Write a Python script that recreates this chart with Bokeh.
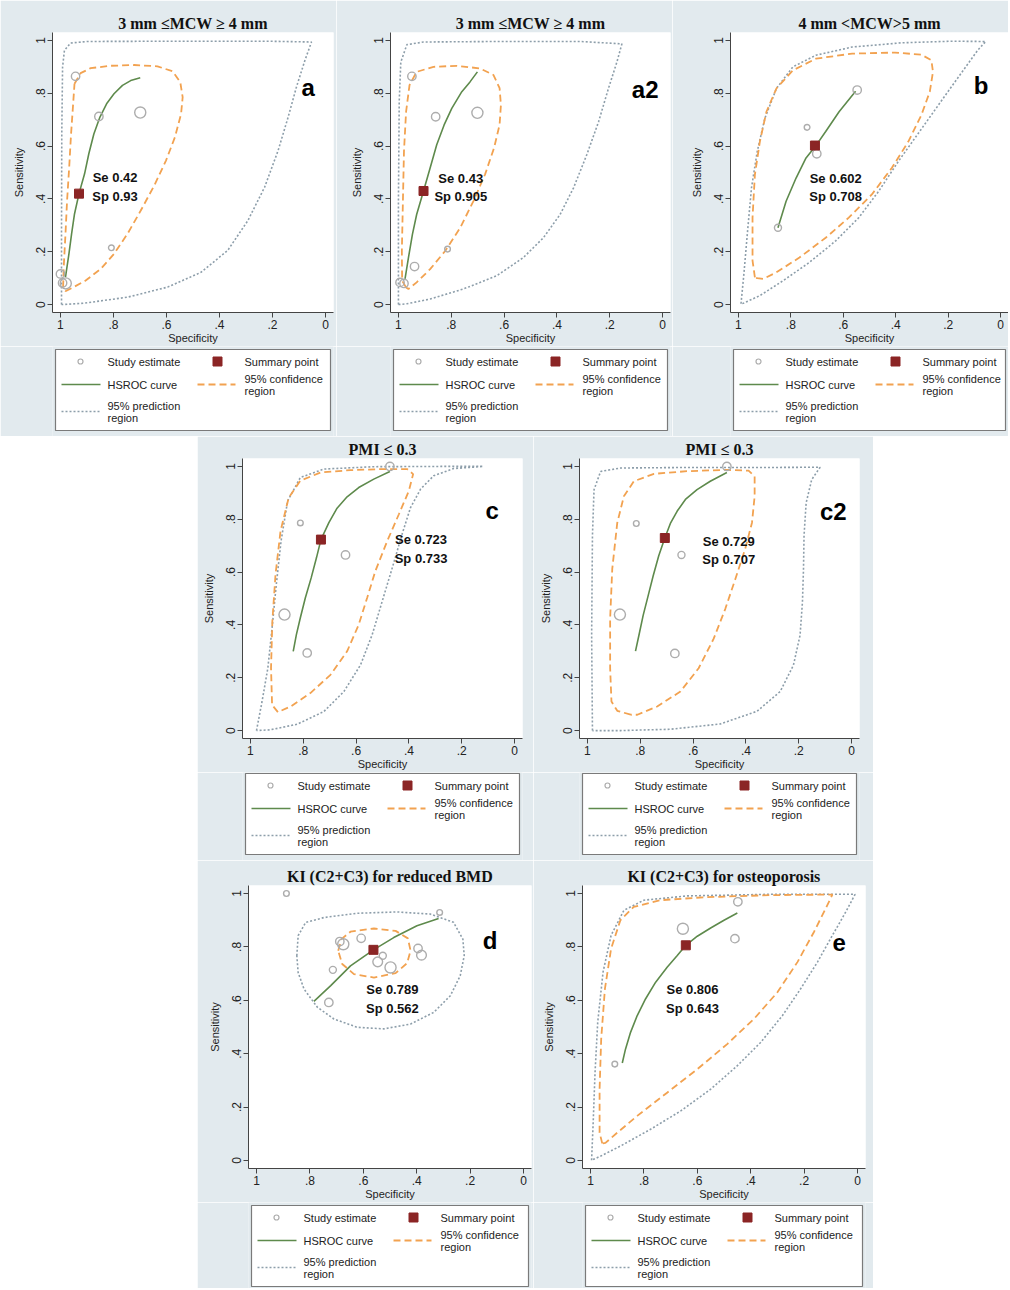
from bokeh.plotting import figure
from bokeh.models import Range1d, FixedTicker, Spacer, ColumnDataSource
from bokeh.layouts import row, column
from bokeh.embed import file_html
from bokeh.resources import INLINE
from bokeh.core.properties import value

# ---------------- data ----------------
TICKS = [0.0, 0.2, 0.4, 0.6, 0.8, 1.0]
TICK_LABELS = ["0", ".2", ".4", ".6", ".8", "1"]
LEGEND_STUDY = "Study estimate"
LEGEND_SUMMARY = "Summary point"
LEGEND_HSROC = "HSROC curve"
LEGEND_CONF = ["95% confidence", "region"]
LEGEND_PRED = ["95% prediction", "region"]

# panel a
A_TITLE = "3 mm \u2264MCW \u2265 4 mm"
A_STUDY_SP = [0.943, 0.855, 0.699, 0.808, 1.000, 0.992, 0.980]
A_STUDY_SE = [0.864, 0.712, 0.727, 0.215, 0.116, 0.082, 0.080]
A_STUDY_W = [2, 2, 3, 1, 2, 2, 3]
A_SUM_SP = [0.93]
A_SUM_SE = [0.42]
A_TEXT = "Se 0.42\nSp 0.93"
A_HSROC_SP = [0.981, 0.968, 0.958, 0.947, 0.930, 0.909, 0.893, 0.874, 0.851, 0.826, 0.798,
              0.766, 0.735, 0.699]
A_HSROC_SE = [0.104, 0.192, 0.268, 0.343, 0.420, 0.495, 0.571, 0.646, 0.710, 0.760, 0.798,
              0.830, 0.848, 0.859]
A_CONF_SP = [0.947, 0.924, 0.886, 0.811, 0.722, 0.634, 0.577, 0.548, 0.539, 0.545, 0.568, 0.602,
             0.646, 0.697, 0.747, 0.798, 0.848, 0.905, 0.956, 0.981, 0.990, 0.987, 0.981, 0.975,
             0.967, 0.960, 0.953]
A_CONF_SE = [0.836, 0.876, 0.895, 0.904, 0.907, 0.902, 0.883, 0.842, 0.785, 0.722, 0.634, 0.545,
             0.451, 0.356, 0.268, 0.192, 0.135, 0.091, 0.063, 0.051, 0.066, 0.154, 0.268, 0.394,
             0.520, 0.646, 0.747]
A_PRED_SP = [0.996, 0.996, 0.995, 0.992, 0.985, 0.962, 0.899, 0.596, 0.217, 0.053, 0.078, 0.110,
             0.141, 0.179, 0.230, 0.293, 0.369, 0.470, 0.596, 0.747, 0.912]
A_PRED_SE = [0.000, 0.268, 0.646, 0.899, 0.962, 0.990, 0.996, 0.997, 0.997, 0.994, 0.924, 0.823,
             0.710, 0.583, 0.444, 0.318, 0.205, 0.122, 0.066, 0.028, 0.005]

# panel a2
A2_TITLE = "3 mm \u2264MCW \u2265 4 mm"
A2_STUDY_SP = [0.949, 0.859, 0.701, 0.814, 0.939, 0.994, 0.979]
A2_STUDY_SE = [0.864, 0.711, 0.726, 0.210, 0.144, 0.084, 0.080]
A2_STUDY_W = [2, 2, 3, 1, 2, 2, 2]
A2_SUM_SP = [0.905]
A2_SUM_SE = [0.43]
A2_TEXT = "Se 0.43\nSp 0.905"
A2_HSROC_SP = [0.975, 0.962, 0.947, 0.931, 0.905, 0.880, 0.855, 0.827, 0.798, 0.760, 0.729,
               0.701]
A2_HSROC_SE = [0.097, 0.178, 0.266, 0.341, 0.430, 0.517, 0.605, 0.680, 0.743, 0.806, 0.843,
               0.881]
A2_CONF_SP = [0.971, 0.986, 0.987, 0.983, 0.979, 0.971, 0.958, 0.931, 0.867, 0.779, 0.691, 0.640,
              0.617, 0.612, 0.617, 0.638, 0.672, 0.716, 0.766, 0.823, 0.880, 0.931, 0.962]
A2_CONF_SE = [0.065, 0.090, 0.203, 0.392, 0.580, 0.730, 0.831, 0.881, 0.900, 0.904, 0.894, 0.869,
              0.819, 0.756, 0.681, 0.593, 0.493, 0.392, 0.291, 0.203, 0.134, 0.084, 0.059]
A2_PRED_SP = [1.000, 1.000, 0.997, 0.991, 0.968, 0.905, 0.628, 0.312, 0.154, 0.173, 0.205, 0.242,
              0.287, 0.337, 0.388, 0.451, 0.527, 0.628, 0.754, 0.880, 0.968]
A2_PRED_SE = [0.000, 0.391, 0.768, 0.918, 0.984, 0.994, 0.996, 0.996, 0.987, 0.918, 0.818, 0.693,
              0.567, 0.442, 0.341, 0.253, 0.178, 0.109, 0.059, 0.021, 0.003]

# panel b
B_TITLE = "4 mm <MCW>5 mm"
B_STUDY_SP = [0.547, 0.738, 0.701, 0.849]
B_STUDY_SE = [0.812, 0.671, 0.571, 0.291]
B_STUDY_W = [2, 1, 2, 1.5]
B_SUM_SP = [0.708]
B_SUM_SE = [0.602]
B_TEXT = "Se 0.602\nSp 0.708"
B_HSROC_SP = [0.849, 0.818, 0.780, 0.742, 0.707, 0.667, 0.616, 0.553]
B_HSROC_SE = [0.291, 0.391, 0.479, 0.555, 0.598, 0.655, 0.730, 0.808]
B_CONF_SP = [0.937, 0.946, 0.946, 0.937, 0.918, 0.893, 0.855, 0.792, 0.704, 0.566, 0.403, 0.302,
             0.264, 0.258, 0.270, 0.302, 0.352, 0.415, 0.491, 0.579, 0.667, 0.767, 0.855, 0.906,
             0.928]
B_CONF_SE = [0.103, 0.166, 0.329, 0.492, 0.617, 0.730, 0.818, 0.887, 0.931, 0.950, 0.954, 0.946,
             0.925, 0.881, 0.806, 0.718, 0.617, 0.517, 0.417, 0.329, 0.253, 0.178, 0.122, 0.097,
             0.100]
B_PRED_SP = [0.990, 0.979, 0.966, 0.950, 0.928, 0.899, 0.855, 0.792, 0.704, 0.566, 0.377, 0.189,
             0.057, 0.088, 0.138, 0.201, 0.264, 0.327, 0.390, 0.465, 0.541, 0.629, 0.730, 0.830,
             0.918, 0.981]
B_PRED_SE = [0.003, 0.115, 0.266, 0.442, 0.580, 0.705, 0.818, 0.900, 0.944, 0.975, 0.991, 0.997,
             0.996, 0.962, 0.893, 0.806, 0.718, 0.630, 0.542, 0.429, 0.329, 0.241, 0.159, 0.090,
             0.034, 0.005]

# panel c
C_TITLE = "PMI \u2264 0.3"
C_STUDY_SP = [0.472, 0.811, 0.640, 0.871, 0.785]
C_STUDY_SE = [1.000, 0.786, 0.665, 0.439, 0.294]
C_STUDY_W = [2, 1, 2, 3, 2]
C_SUM_SP = [0.733]
C_SUM_SE = [0.723]
C_TEXT = "Se 0.723\nSp 0.733"
C_HSROC_SP = [0.838, 0.826, 0.811, 0.792, 0.770, 0.750, 0.733, 0.703, 0.672, 0.634, 0.590,
              0.533, 0.472]
C_HSROC_SE = [0.300, 0.363, 0.427, 0.503, 0.578, 0.654, 0.723, 0.787, 0.842, 0.885, 0.920,
              0.952, 0.981]
C_CONF_SP = [0.896, 0.918, 0.922, 0.917, 0.905, 0.886, 0.855, 0.811, 0.735, 0.621, 0.495, 0.407,
             0.384, 0.400, 0.438, 0.482, 0.527, 0.558, 0.590, 0.634, 0.697, 0.773, 0.848]
C_CONF_SE = [0.070, 0.097, 0.237, 0.414, 0.591, 0.756, 0.882, 0.946, 0.977, 0.986, 0.990, 0.990,
             0.971, 0.908, 0.819, 0.718, 0.604, 0.503, 0.401, 0.300, 0.211, 0.142, 0.091]
C_PRED_SP = [0.977, 0.956, 0.934, 0.918, 0.902, 0.884, 0.859, 0.811, 0.722, 0.533, 0.280, 0.119,
             0.230, 0.306, 0.356, 0.394, 0.426, 0.463, 0.501, 0.539, 0.583, 0.646, 0.722, 0.823,
             0.924]
C_PRED_SE = [0.000, 0.110, 0.237, 0.389, 0.553, 0.718, 0.870, 0.958, 0.990, 0.999, 1.000, 1.000,
             0.992, 0.965, 0.914, 0.844, 0.743, 0.616, 0.490, 0.363, 0.249, 0.148, 0.072, 0.024,
             0.003]

# panel c2
C2_TITLE = "PMI \u2264 0.3"
C2_STUDY_SP = [0.472, 0.815, 0.644, 0.877, 0.669]
C2_STUDY_SE = [1.000, 0.784, 0.665, 0.439, 0.292]
C2_STUDY_W = [2, 1, 1.5, 3, 2]
C2_SUM_SP = [0.707]
C2_SUM_SE = [0.729]
C2_TEXT = "Se 0.729\nSp 0.707"
C2_HSROC_SP = [0.818, 0.805, 0.789, 0.770, 0.751, 0.730, 0.707, 0.686, 0.660, 0.629, 0.585,
               0.535, 0.472]
C2_HSROC_SE = [0.301, 0.361, 0.436, 0.511, 0.586, 0.662, 0.729, 0.784, 0.831, 0.875, 0.912,
               0.944, 0.977]
C2_CONF_SP = [0.836, 0.887, 0.909, 0.914, 0.914, 0.906, 0.887, 0.862, 0.824, 0.748, 0.623, 0.472,
              0.390, 0.367, 0.367, 0.377, 0.403, 0.440, 0.478, 0.522, 0.579, 0.648, 0.736, 0.811]
C2_CONF_SE = [0.060, 0.075, 0.110, 0.236, 0.424, 0.612, 0.787, 0.887, 0.944, 0.972, 0.982, 0.987,
              0.984, 0.962, 0.887, 0.787, 0.687, 0.574, 0.461, 0.348, 0.236, 0.148, 0.091, 0.060]
C2_PRED_SP = [0.981, 0.984, 0.981, 0.975, 0.950, 0.874, 0.623, 0.308, 0.119, 0.151, 0.172, 0.180,
              0.182, 0.186, 0.195, 0.220, 0.270, 0.358, 0.497, 0.686, 0.874]
C2_PRED_SE = [0.000, 0.361, 0.737, 0.912, 0.981, 0.994, 0.996, 0.996, 0.997, 0.950, 0.862, 0.737,
              0.612, 0.486, 0.361, 0.248, 0.148, 0.073, 0.025, 0.005, 0.000]

# panel d
D_TITLE = "KI (C2+C3) for reduced BMD"
D_STUDY_SP = [0.888, 0.314, 0.688, 0.675, 0.608, 0.527, 0.546, 0.498, 0.395, 0.382, 0.714, 0.729]
D_STUDY_SE = [1.000, 0.929, 0.820, 0.810, 0.832, 0.767, 0.744, 0.723, 0.794, 0.769, 0.714, 0.592]
D_STUDY_W = [1, 1, 2, 3, 2, 1.5, 2.5, 3, 2, 2.5, 1.5, 2]
D_SUM_SP = [0.562]
D_SUM_SE = [0.789]
D_TEXT = "Se 0.789\nSp 0.562"
D_HSROC_SP = [0.785, 0.722, 0.648, 0.562, 0.486, 0.399, 0.318]
D_HSROC_SE = [0.596, 0.655, 0.729, 0.789, 0.835, 0.879, 0.906]
D_CONF_SP = [0.694, 0.682, 0.648, 0.560, 0.479, 0.433, 0.423, 0.436, 0.479, 0.560, 0.635, 0.679]
D_CONF_SE = [0.786, 0.829, 0.857, 0.869, 0.860, 0.832, 0.786, 0.739, 0.702, 0.685, 0.698, 0.736]
D_PRED_SP = [0.849, 0.844, 0.816, 0.747, 0.623, 0.473, 0.349, 0.262, 0.227, 0.222, 0.237, 0.274,
             0.336, 0.423, 0.523, 0.623, 0.710, 0.772, 0.822, 0.844]
D_PRED_SE = [0.767, 0.842, 0.892, 0.910, 0.926, 0.931, 0.923, 0.892, 0.829, 0.767, 0.692, 0.617,
             0.555, 0.511, 0.493, 0.499, 0.530, 0.574, 0.642, 0.704]

# panel e
E_TITLE = "KI (C2+C3) for osteoporosis"
E_STUDY_SP = [0.448, 0.654, 0.459, 0.909]
E_STUDY_SE = [0.969, 0.868, 0.831, 0.361]
E_STUDY_W = [2, 3, 2, 1]
E_SUM_SP = [0.643]
E_SUM_SE = [0.806]
E_TEXT = "Se 0.806\nSp 0.643"
E_HSROC_SP = [0.881, 0.869, 0.850, 0.825, 0.794, 0.756, 0.713, 0.675, 0.643, 0.600, 0.550,
              0.500, 0.450]
E_HSROC_SE = [0.365, 0.417, 0.480, 0.543, 0.605, 0.668, 0.724, 0.768, 0.806, 0.840, 0.871,
              0.900, 0.927]
E_CONF_SP = [0.956, 0.966, 0.966, 0.960, 0.946, 0.923, 0.888, 0.838, 0.738, 0.575, 0.325, 0.094,
             0.119, 0.163, 0.225, 0.300, 0.388, 0.488, 0.600, 0.713, 0.825, 0.900, 0.944]
E_CONF_SE = [0.064, 0.104, 0.267, 0.455, 0.643, 0.793, 0.900, 0.950, 0.975, 0.986, 0.994, 0.996,
             0.944, 0.856, 0.743, 0.630, 0.530, 0.436, 0.342, 0.254, 0.167, 0.104, 0.066]
E_PRED_SP = [0.996, 0.990, 0.983, 0.973, 0.953, 0.923, 0.875, 0.800, 0.638, 0.325, 0.009, 0.044,
             0.094, 0.150, 0.213, 0.281, 0.363, 0.450, 0.550, 0.663, 0.775, 0.888, 0.963]
E_PRED_SE = [0.001, 0.142, 0.330, 0.518, 0.706, 0.843, 0.937, 0.975, 0.991, 0.997, 0.997, 0.931,
             0.843, 0.743, 0.643, 0.543, 0.442, 0.355, 0.267, 0.185, 0.117, 0.054, 0.016]

# ---------------- styles ----------------
BG = "#e2eaee"
C_STUDY = "#adadad"
C_SUMMARY = "#8b2525"
C_HSROC = "#5e8a4c"
C_CONF = "#f2a250"
C_PRED = "#8d9eaa"
SANS = "Liberation Sans"
SERIF = "Liberation Serif"
DASH_CONF = "7 4"
DASH_PRED = "2 2"


def closed(v):
    return list(v) + [v[0]]


def chart(title, st_sp, st_se, st_w, sum_sp, sum_se, txt, hs_sp, hs_se, cf_sp, cf_se,
          pr_sp, pr_se, tag, txt_pos, tag_pos, width, height, left, right, top, bottom):
    p = figure(width=width, height=height,
               x_range=Range1d(1.03, -0.03), y_range=Range1d(-0.03, 1.03),
               output_backend="svg", toolbar_location=None,
               min_border_left=left, min_border_right=right,
               min_border_top=top, min_border_bottom=bottom,
               background_fill_color="white", border_fill_color=BG,
               outline_line_color=None)
    p.grid.visible = False
    p.title.text = title
    p.title.text_font = SERIF
    p.title.text_font_size = "16px"
    p.title.text_font_style = "bold"
    p.title.text_color = "#111111"
    p.title.align = "center"
    p.title.standoff = 2

    for ax in (p.xaxis[0], p.yaxis[0]):
        ax.ticker = FixedTicker(ticks=TICKS)
        ax.major_label_overrides = dict(zip(TICKS, TICK_LABELS))
        ax.major_label_text_font = SANS
        ax.major_label_text_font_size = "12px"
        ax.major_label_text_color = "#222222"
        ax.axis_label_text_font = SANS
        ax.axis_label_text_font_size = "11px"
        ax.axis_label_text_font_style = "normal"
        ax.axis_label_text_color = "#222222"
        ax.axis_line_color = "#444444"
        ax.major_tick_line_color = "#444444"
        ax.major_tick_out = 5
        ax.major_tick_in = 0
        ax.minor_tick_out = 0
        ax.minor_tick_in = 0
        ax.major_label_standoff = 2
    p.xaxis.axis_label = "Specificity"
    p.xaxis.axis_label_standoff = 0
    p.yaxis.axis_label = "Sensitivity"
    p.yaxis.axis_label_standoff = 9
    p.yaxis.major_label_orientation = "vertical"

    p.line(closed(pr_sp), closed(pr_se), line_color=C_PRED, line_width=1.6, line_dash=DASH_PRED)
    p.line(closed(cf_sp), closed(cf_se), line_color=C_CONF, line_width=1.8, line_dash=DASH_CONF)
    p.line(hs_sp, hs_se, line_color=C_HSROC, line_width=1.6)
    sizes = [3 + 2.7 * w for w in st_w]
    src = ColumnDataSource(dict(x=st_sp, y=st_se, s=sizes))
    p.scatter("x", "y", size="s", source=src, marker="circle", fill_color=None,
              line_color=C_STUDY, line_width=1.4)
    p.scatter(sum_sp, sum_se, marker="square", size=9, fill_color=C_SUMMARY,
              line_color=C_SUMMARY)

    p.text(x=[txt_pos[0]], y=[txt_pos[1]], text=[txt], text_font=value(SANS),
           text_font_size="13px", text_font_style="bold", text_align="center",
           text_baseline="middle", text_line_height=1.25, text_color="#111111")
    p.text(x=[tag_pos[0]], y=[tag_pos[1]], text=[tag], text_font=value(SANS),
           text_font_size="24px", text_font_style="bold", text_align="center",
           text_baseline="middle", text_color="#000000")
    return p


def legend_fig(width, height, left, right, box_top):
    fw = width - left - right
    q = figure(width=width, height=height, x_range=Range1d(0, fw), y_range=Range1d(height, 0),
               x_axis_location=None, y_axis_location=None,
               output_backend="svg", toolbar_location=None,
               min_border_left=left, min_border_right=right, min_border_top=0,
               min_border_bottom=0, background_fill_color=BG, border_fill_color=BG,
               outline_line_color=None)
    q.grid.visible = False
    T = box_top
    # legend frame
    q.quad(left=[3], right=[fw - 3], top=[T], bottom=[T + 81], fill_color="white",
           line_color="#7a7a7a", line_width=1.2)
    # keys
    q.scatter([28], [T + 12], marker="circle", size=5, fill_color=None, line_color=C_STUDY,
              line_width=1.2)
    q.scatter([165], [T + 12], marker="square", size=9, fill_color=C_SUMMARY,
              line_color=C_SUMMARY)
    q.line([9, 48], [T + 35, T + 35], line_color=C_HSROC, line_width=1.6)
    q.line([145, 183], [T + 35, T + 35], line_color=C_CONF, line_width=1.8, line_dash=DASH_CONF)
    q.line([9, 48], [T + 62, T + 62], line_color=C_PRED, line_width=1.6, line_dash=DASH_PRED)
    # labels
    lx = [55, 192, 55, 192, 192, 55, 55]
    ly = [T + 12, T + 12, T + 35, T + 29, T + 41, T + 56, T + 68]
    lt = [LEGEND_STUDY, LEGEND_SUMMARY, LEGEND_HSROC, LEGEND_CONF[0], LEGEND_CONF[1],
          LEGEND_PRED[0], LEGEND_PRED[1]]
    q.text(x=lx, y=ly, text=lt, text_font=value(SANS), text_font_size="11px",
           text_baseline="middle", text_align="left", text_color="#222222")
    return q


def block(ch, lg):
    return column(ch, lg, spacing=0)


pa = chart(A_TITLE, A_STUDY_SP, A_STUDY_SE, A_STUDY_W, A_SUM_SP, A_SUM_SE, A_TEXT,
           A_HSROC_SP, A_HSROC_SE, A_CONF_SP, A_CONF_SE, A_PRED_SP, A_PRED_SE,
           "a", (0.794, 0.446), (0.066, 0.821), 336, 346, 52, 3, 32, 34)
pa2 = chart(A2_TITLE, A2_STUDY_SP, A2_STUDY_SE, A2_STUDY_W, A2_SUM_SP, A2_SUM_SE, A2_TEXT,
            A2_HSROC_SP, A2_HSROC_SE, A2_CONF_SP, A2_CONF_SE, A2_PRED_SP, A2_PRED_SE,
            "a2", (0.764, 0.443), (0.066, 0.816), 336, 346, 54, 2, 32, 34)
pb = chart(B_TITLE, B_STUDY_SP, B_STUDY_SE, B_STUDY_W, B_SUM_SP, B_SUM_SE, B_TEXT,
           B_HSROC_SP, B_HSROC_SE, B_CONF_SP, B_CONF_SE, B_PRED_SP, B_PRED_SE,
           "b", (0.629, 0.443), (0.075, 0.831), 336, 346, 58, 0, 32, 34)
pc = chart(C_TITLE, C_STUDY_SP, C_STUDY_SE, C_STUDY_W, C_SUM_SP, C_SUM_SE, C_TEXT,
           C_HSROC_SP, C_HSROC_SE, C_CONF_SP, C_CONF_SE, C_PRED_SP, C_PRED_SE,
           "c", (0.354, 0.687), (0.085, 0.834), 336, 336, 45, 11, 22, 34)
pc2 = chart(C2_TITLE, C2_STUDY_SP, C2_STUDY_SE, C2_STUDY_W, C2_SUM_SP, C2_SUM_SE, C2_TEXT,
            C2_HSROC_SP, C2_HSROC_SE, C2_CONF_SP, C2_CONF_SE, C2_PRED_SP, C2_PRED_SE,
            "c2", (0.465, 0.682), (0.069, 0.831), 340, 336, 46, 14, 22, 34)
pd = chart(D_TITLE, D_STUDY_SP, D_STUDY_SE, D_STUDY_W, D_SUM_SP, D_SUM_SE, D_TEXT,
           D_HSROC_SP, D_HSROC_SE, D_CONF_SP, D_CONF_SE, D_PRED_SP, D_PRED_SE,
           "d", (0.491, 0.605), (0.125, 0.823), 336, 342, 51, 2, 25, 34)
pe = chart(E_TITLE, E_STUDY_SP, E_STUDY_SE, E_STUDY_W, E_SUM_SP, E_SUM_SE, E_TEXT,
           E_HSROC_SP, E_HSROC_SE, E_CONF_SP, E_CONF_SE, E_PRED_SP, E_PRED_SE,
           "e", (0.618, 0.605), (0.069, 0.818), 340, 342, 49, 8, 25, 34)

row1 = row(block(pa, legend_fig(336, 90, 52, 3, 3)),
           block(pa2, legend_fig(336, 90, 54, 2, 3)),
           block(pb, legend_fig(336, 90, 58, 0, 3)), spacing=0)
row2 = row(Spacer(width=197, height=424),
           block(pc, legend_fig(336, 88, 45, 11, 1)),
           block(pc2, legend_fig(340, 88, 46, 14, 1)), spacing=0)
row3 = row(Spacer(width=197, height=428),
           block(pd, legend_fig(336, 86, 51, 2, 3)),
           block(pe, legend_fig(340, 86, 49, 8, 3)), spacing=0)

layout = column(row1, row2, row3, spacing=0)
open("out.html", "w").write(file_html(layout, INLINE))
